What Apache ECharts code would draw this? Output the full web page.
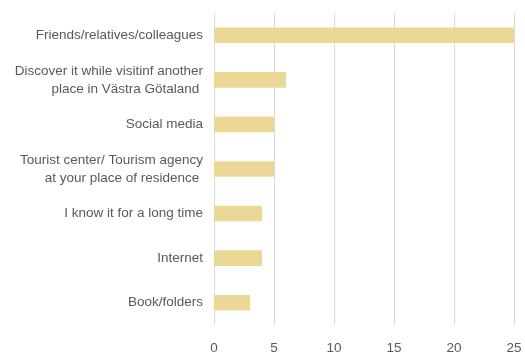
<!DOCTYPE html>
<html><head><meta charset="utf-8">
<script src="https://cdn.jsdelivr.net/npm/echarts@6/dist/echarts.min.js"></script>
<style>html,body{margin:0;padding:0;background:#fff}#c{width:525px;height:356px}</style>
</head><body><div id="c"></div>
<script>
const categories = [
  "Friends/relatives/colleagues",
  "Discover it while visitinf another\nplace in Västra Götaland ",
  "Social media",
  "Tourist center/ Tourism agency\nat your place of residence ",
  "I know it for a long time",
  "Internet",
  "Book/folders"
];
const values = [25, 6, 5, 5, 4, 4, 3];
const xTicks = [0, 5, 10, 15, 20, 25];

const chart = echarts.init(document.getElementById('c'), null, {renderer: 'canvas'});
chart.setOption({
  animation: false,
  grid: {left: 214, right: 11, top: 13, bottom: 31, containLabel: false},
  xAxis: {
    type: 'value', min: xTicks[0], max: xTicks[xTicks.length - 1], interval: 5,
    axisLine: {show: false}, axisTick: {show: false},
    splitLine: {show: true, lineStyle: {color: '#D9D9D9', width: 1}},
    axisLabel: {color: '#595959', fontFamily: 'Liberation Sans', fontSize: 13.5, margin: 16}
  },
  yAxis: {
    type: 'category', data: categories, inverse: true,
    axisLine: {show: false}, axisTick: {show: false},
    axisLabel: {color: '#595959', fontFamily: 'Liberation Sans', fontSize: 13.5, margin: 11, lineHeight: 18, align: 'right'}
  },
  series: [{
    type: 'bar', data: values, barWidth: '35%',
    itemStyle: {color: '#EBD897'}
  }]
});
</script></body></html>
